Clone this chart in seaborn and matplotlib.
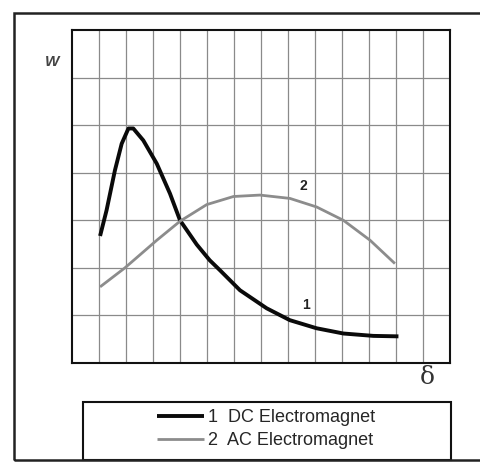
import matplotlib
matplotlib.use("Agg")
import matplotlib.pyplot as plt
from matplotlib.patches import Rectangle
import seaborn as sns
import pandas as pd

# Data (grid units)
dc_x = [1.04, 1.28, 1.59, 1.84, 2.09, 2.27, 2.64, 3.14, 3.63, 4.00, 4.62, 5.10, 5.48,
        6.22, 7.21, 8.07, 9.06, 10.05, 11.16, 12.09]
dc_y = [2.67, 3.21, 4.05, 4.61, 4.93, 4.93, 4.68, 4.19, 3.56, 3.00, 2.49, 2.16, 1.95,
        1.53, 1.15, 0.90, 0.73, 0.62, 0.57, 0.56]
ac_x = [1.04, 1.96, 3.14, 4.00, 4.99, 5.98, 6.96, 8.07, 9.06, 10.05, 11.04, 11.96]
ac_y = [1.60, 2.00, 2.58, 2.98, 3.33, 3.50, 3.53, 3.46, 3.28, 3.00, 2.58, 2.09]
series_labels = ["1  DC Electromagnet", "2  AC Electromagnet"]
curve_numbers = ["1", "2"]

sns.set_theme(style="white")
plt.rcParams["font.family"] = ["Liberation Sans", "DejaVu Sans"]

df = pd.concat([
    pd.DataFrame({"x": dc_x, "y": dc_y, "s": series_labels[0]}),
    pd.DataFrame({"x": ac_x, "y": ac_y, "s": series_labels[1]}),
])

fig = plt.figure(figsize=(4.81, 4.68), dpi=100)
ax = fig.add_axes([72 / 481, 1 - 363 / 468, 378 / 481, 333 / 468])

sns.lineplot(data=df, x="x", y="y", hue="s", palette=["#0a0a0a", "#8c8c8c"],
             sort=False, estimator=None, ax=ax, legend=False)
lines = ax.get_lines()
lines[0].set_linewidth(2.8)
lines[1].set_linewidth(2.0)
for ln in lines:
    ln.set_solid_capstyle("butt")
    ln.set_solid_joinstyle("round")

ax.set_xlim(0, 14)
ax.set_ylim(0, 7)
ax.set_xticks(range(1, 14))
ax.set_yticks(range(1, 7))
ax.grid(True, color="#8a8a8a", linewidth=0.9)
ax.tick_params(length=0, labelbottom=False, labelleft=False)
ax.set_xlabel("")
ax.set_ylabel("")
for sp in ax.spines.values():
    sp.set_visible(True)
    sp.set_color("#111111")
    sp.set_linewidth(1.5)

ax.text(8.55, 3.72, curve_numbers[1], fontsize=10, fontweight="bold", color="#222222",
        ha="center", va="center")
ax.text(8.67, 1.22, curve_numbers[0], fontsize=10, fontweight="bold", color="#222222",
        ha="center", va="center")

fig.text(52 / 481, 1 - 62 / 468, "W", fontsize=11, fontstyle="italic", fontweight="bold",
         color="#444444", ha="center", va="center")
fig.text(427 / 481, 1 - 377 / 468, "δ", fontsize=18, family="DejaVu Serif",
         color="#333333", ha="center", va="center")

# legend box
fig.patches.append(Rectangle((83 / 481, 1 - 460 / 468), 368 / 481, 58 / 468,
                             transform=fig.transFigure, fill=False,
                             edgecolor="#111111", linewidth=1.5))
leg = fig.legend(lines, series_labels, loc="center", bbox_to_anchor=(266 / 481, 1 - 429 / 468),
                 frameon=False, fontsize=13, handlelength=2.6, handletextpad=0.2,
                 labelspacing=0.35, borderpad=0)

# outer frame
fig.patches.append(Rectangle((14 / 481, 1 - 460 / 468), 1.2, 447 / 468,
                             transform=fig.transFigure, fill=False,
                             edgecolor="#222222", linewidth=1.8, clip_on=False))

fig.savefig("out.png", dpi=100)
